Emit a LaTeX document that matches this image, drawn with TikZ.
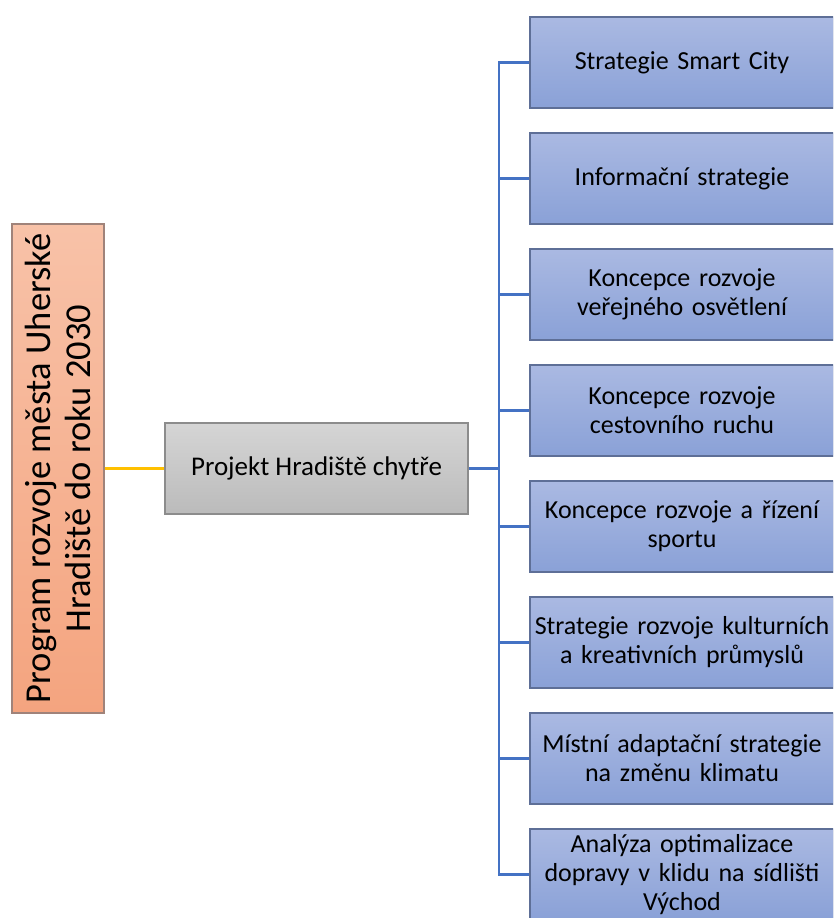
\documentclass[tikz,border=0pt]{standalone}
\usepackage{fontspec}
\setmainfont{Carlito}
\definecolor{bluetop}{HTML}{AAB9E2}
\definecolor{bluebot}{HTML}{8AA1D7}
\definecolor{blueedge}{HTML}{5E6F97}
\definecolor{greytop}{HTML}{D5D5D5}
\definecolor{greybot}{HTML}{BBBBBB}
\definecolor{greyedge}{HTML}{8C8C8C}
\definecolor{peachtop}{HTML}{F8C2A8}
\definecolor{peachbot}{HTML}{F4A47F}
\definecolor{peachedge}{HTML}{A0837A}
\definecolor{linkblue}{HTML}{4472C4}
\definecolor{linkgold}{HTML}{FFC000}
\tikzset{
  leaf/.style={draw=blueedge, line width=1.4pt, top color=bluetop, bottom color=bluebot,
    minimum width=304pt, minimum height=91pt, inner xsep=2pt, inner ysep=0pt, align=center,
    font=\fontsize{26}{29}\selectfont, text width=300pt},
  mid/.style={draw=greyedge, line width=1.4pt, top color=greytop, bottom color=greybot,
    minimum width=303pt, minimum height=91pt, align=center, font=\fontsize{27}{30}\selectfont},
  rootbox/.style={draw=peachedge, line width=1.4pt, top color=peachtop, bottom color=peachbot},
  bluelink/.style={draw=linkblue, line width=2.8pt},
  goldlink/.style={draw=linkgold, line width=2.6pt},
}
\begin{document}
\begin{tikzpicture}[x=1pt,y=-1pt]
\useasboundingbox (0,0) rectangle (833,918);
\clip (0,0) rectangle (833,918);
% root box
\node[rootbox, minimum width=92pt, minimum height=489pt, inner sep=0pt] (root) at (58,468.5) {};
\node[rotate=90, align=center, font=\fontsize{36.5}{40}\selectfont] (roottext) at (root.center) {Program rozvoje města Uherské\\Hradiště do roku 2030};
% middle box
\node[mid] (proj) at (316.5,468.5) {Projekt Hradiště chytře};
% leaves
\node[leaf] (l1) at (682,62.5) {Strategie Smart City};
\node[leaf] (l2) at (682,178.5) {Informační strategie};
\node[leaf] (l3) at (682,294.5) {Koncepce rozvoje\\veřejného osvětlení};
\node[leaf] (l4) at (682,410.5) {Koncepce rozvoje\\cestovního ruchu};
\node[leaf] (l5) at (682,526.5) {Koncepce rozvoje a řízení\\sportu};
\node[leaf] (l6) at (682,642.5) {Strategie rozvoje kulturních\\a kreativních průmyslů};
\node[leaf] (l7) at (682,758.5) {Místní adaptační strategie\\na změnu klimatu};
\node[leaf] (l8) at (682,874.5) {Analýza optimalizace\\dopravy v klidu na sídlišti\\Východ};
% connectors
\draw[goldlink] (root.east) -- (proj.west);
\coordinate (bus) at (499,468.5);
\draw[bluelink] (proj.east) -- (bus);
\foreach \n in {l1,l2,l3,l4,l5,l6,l7,l8}{
  \draw[bluelink] (bus) |- (\n.west);
}
\end{tikzpicture}
\end{document}
